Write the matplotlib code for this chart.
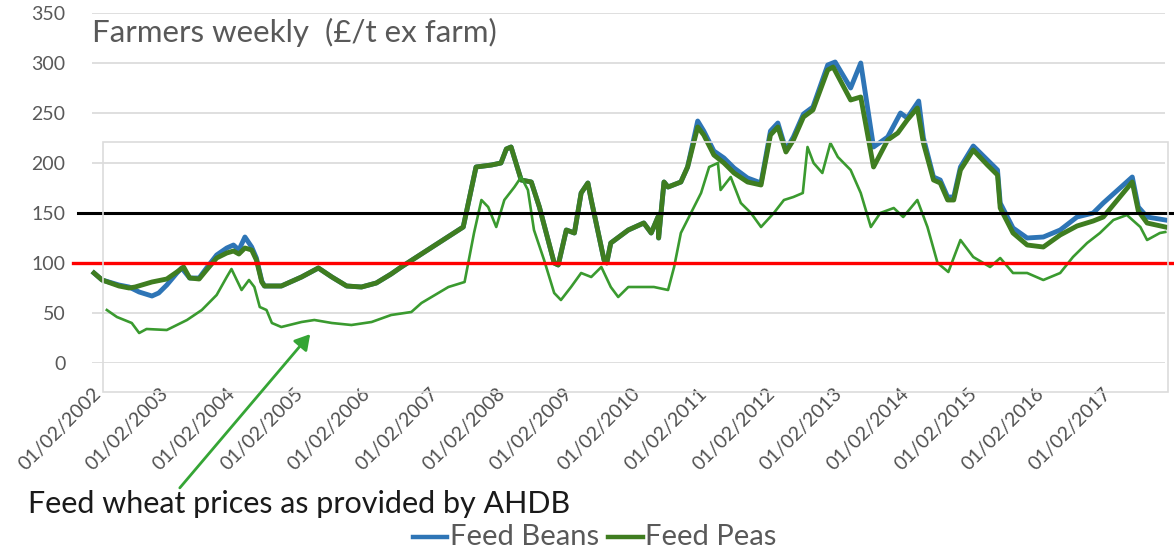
import matplotlib
matplotlib.use("Agg")
import matplotlib.pyplot as plt
from matplotlib.lines import Line2D
from matplotlib.patches import Rectangle, FancyArrowPatch
import matplotlib.transforms as mtransforms

plt.rcParams['font.family'] = ['Lato', 'DejaVu Sans']

# ---------------- data (decimal year, £/t) ----------------
peas_t = [2002.03, 2002.15, 2002.40, 2002.55, 2002.64, 2002.89, 2003.11, 2003.26, 2003.36, 2003.45,
          2003.59, 2003.70, 2003.85, 2004.00, 2004.10, 2004.18, 2004.27, 2004.37, 2004.44, 2004.52,
          2004.56, 2004.81, 2005.11, 2005.36, 2005.56, 2005.78, 2006.00, 2006.22, 2006.44, 2006.59,
          2007.51, 2007.70, 2007.93, 2008.07, 2008.15, 2008.22, 2008.37, 2008.52, 2008.64, 2008.86,
          2008.92, 2009.04, 2009.16, 2009.26, 2009.36, 2009.41, 2009.60, 2009.64, 2009.70, 2009.96,
          2010.19, 2010.30, 2010.40, 2010.41, 2010.49, 2010.55, 2010.74, 2010.84, 2010.99, 2011.08,
          2011.23, 2011.38, 2011.53, 2011.73, 2011.93, 2012.07, 2012.18, 2012.30, 2012.41, 2012.56,
          2012.70, 2012.92, 2013.00, 2013.26, 2013.41, 2013.60, 2013.81, 2013.96, 2014.10, 2014.25,
          2014.34, 2014.49, 2014.59, 2014.70, 2014.79, 2014.89, 2015.08, 2015.29, 2015.44, 2015.48,
          2015.67, 2015.88, 2016.12, 2016.37, 2016.62, 2016.86, 2017.01, 2017.44, 2017.53, 2017.66,
          2017.93]
peas_v = [90, 83, 77, 75, 76, 81, 84, 91, 96, 85,
          84, 93, 105, 110, 112, 109, 115, 113, 103, 81,
          77, 77, 86, 95, 86, 77, 76, 80, 89, 96,
          136, 196, 198, 200, 214, 216, 183, 181, 156, 100,
          98, 133, 130, 170, 180, 163, 103, 100, 120, 133,
          140, 130, 146, 125, 181, 176, 181, 196, 236, 228,
          208, 200, 190, 181, 178, 228, 236, 211, 223, 246,
          253, 293, 296, 263, 266, 196, 223, 230, 243, 255,
          220, 183, 180, 163, 163, 193, 213, 198, 188, 155,
          130, 118, 116, 128, 137, 142, 146, 181, 152, 140,
          136]

beans_t = [2002.03, 2002.15, 2002.40, 2002.55, 2002.70, 2002.89, 2002.99, 2003.11, 2003.26, 2003.33,
           2003.45, 2003.59, 2003.70, 2003.85, 2004.00, 2004.10, 2004.18, 2004.27, 2004.37, 2004.44,
           2004.52, 2004.56, 2004.81, 2005.11, 2005.36, 2005.56, 2005.78, 2006.00, 2006.22, 2006.44,
           2006.59, 2007.51, 2007.70, 2007.93, 2008.07, 2008.15, 2008.22, 2008.37, 2008.52, 2008.64,
           2008.86, 2008.92, 2009.04, 2009.16, 2009.26, 2009.36, 2009.41, 2009.60, 2009.64, 2009.70,
           2009.96, 2010.19, 2010.30, 2010.40, 2010.41, 2010.49, 2010.55, 2010.74, 2010.84, 2010.99,
           2011.08, 2011.23, 2011.38, 2011.53, 2011.73, 2011.93, 2012.07, 2012.18, 2012.30, 2012.41,
           2012.56, 2012.70, 2012.92, 2013.03, 2013.26, 2013.41, 2013.60, 2013.81, 2014.00, 2014.10,
           2014.27, 2014.34, 2014.49, 2014.59, 2014.70, 2014.79, 2014.89, 2015.08, 2015.29, 2015.44,
           2015.48, 2015.67, 2015.88, 2016.12, 2016.37, 2016.62, 2016.86, 2017.01, 2017.44, 2017.53,
           2017.66, 2017.93]
beans_v = [90, 83, 78, 76, 71, 67, 70, 78, 90, 95,
           85, 85, 95, 108, 115, 118, 113, 126, 116, 105,
           82, 77, 77, 86, 95, 86, 77, 76, 80, 89,
           96, 136, 196, 198, 200, 214, 216, 183, 181, 156,
           100, 98, 133, 130, 170, 180, 163, 103, 100, 120,
           133, 140, 130, 146, 125, 181, 176, 181, 196, 242,
           232, 212, 205, 195, 185, 180, 232, 240, 213, 226,
           249, 256, 298, 301, 275, 300, 216, 226, 250, 245,
           262, 225, 186, 183, 166, 166, 196, 217, 203, 193,
           160, 135, 125, 126, 133, 146, 150, 160, 186, 156,
           146, 143]

wheat_t = [2002.22, 2002.37, 2002.59, 2002.70, 2002.81, 2003.11, 2003.41, 2003.63, 2003.85, 2004.00,
           2004.07, 2004.22, 2004.33, 2004.41, 2004.49, 2004.59, 2004.67, 2004.81, 2005.11, 2005.30,
           2005.56, 2005.85, 2006.15, 2006.44, 2006.74, 2006.89, 2007.29, 2007.53, 2007.67, 2007.78,
           2007.88, 2008.00, 2008.12, 2008.27, 2008.37, 2008.47, 2008.56, 2008.71, 2008.86, 2008.96,
           2009.11, 2009.26, 2009.41, 2009.56, 2009.70, 2009.81, 2009.96, 2010.15, 2010.34, 2010.55,
           2010.64, 2010.74, 2010.89, 2011.04, 2011.16, 2011.29, 2011.33, 2011.48, 2011.63, 2011.78,
           2011.93, 2012.12, 2012.27, 2012.41, 2012.55, 2012.62, 2012.71, 2012.84, 2012.96, 2013.07,
           2013.26, 2013.41, 2013.56, 2013.70, 2013.90, 2014.04, 2014.25, 2014.40, 2014.55, 2014.71,
           2014.89, 2015.08, 2015.33, 2015.48, 2015.67, 2015.88, 2016.12, 2016.37, 2016.56, 2016.77,
           2016.96, 2017.16, 2017.36, 2017.56, 2017.66, 2017.85, 2017.93]
wheat_v = [53, 46, 40, 30, 34, 33, 43, 53, 68, 86,
           94, 73, 83, 76, 56, 53, 40, 36, 41, 43,
           40, 38, 41, 48, 51, 60, 76, 81, 130, 163,
           156, 136, 163, 176, 186, 173, 133, 103, 70, 63,
           76, 90, 86, 96, 76, 66, 76, 76, 76, 73,
           96, 130, 150, 170, 196, 200, 173, 186, 160, 150,
           136, 150, 163, 166, 170, 216, 200, 190, 220, 206,
           193, 170, 136, 150, 155, 146, 163, 136, 100, 91,
           123, 106, 96, 105, 90, 90, 83, 90, 106, 120,
           130, 143, 148, 136, 123, 130, 131]

tick_years = list(range(2002, 2018))
tick_labels = ["01/02/%d" % y for y in tick_years]
y_ticks = [0, 50, 100, 150, 200, 250, 300, 350]
ref_black = 150
ref_red = 100

title_text = "Farmers weekly  (£/t ex farm)"
note_text = "Feed wheat prices as provided by AHDB"
series_names = ["Feed Beans", "Feed Peas"]

# ---------------- layout ----------------
W, H = 1174, 552
fig = plt.figure(figsize=(W / 100, H / 100), dpi=100)
fig.patch.set_facecolor("white")

def fx(px):
    return px / W

def fy(py):
    return 1 - py / H

# x range in decimal years: tick 2002 at px 90, 67.5 px/year
px_per_year = 67.5
x0_px, x1_px = 92, 1165
xmin = 2002 + (x0_px - 90) / px_per_year
xmax = 2002 + (x1_px - 90) / px_per_year

ax = fig.add_axes([fx(x0_px), fy(363), fx(x1_px - x0_px), (363 - 13) / H])
ax.set_xlim(xmin, xmax)
ax.set_ylim(0, 350)
for s in ax.spines.values():
    s.set_visible(False)
ax.set_yticks(y_ticks)
ax.set_yticklabels([str(v) for v in y_ticks])
ax.grid(axis="y", color="#d9d9d9", lw=1.2)
ax.set_axisbelow(True)
ax.tick_params(axis="y", length=0, pad=19, labelsize=14, labelcolor="#595959")
ax.set_xticks(tick_years)
ax.set_xticklabels(tick_labels, rotation=45, ha="right", va="top", rotation_mode="anchor")
ax.tick_params(axis="x", length=0, pad=16, labelsize=14, labelcolor="#505050")

# inset frame of pasted wheat chart
fig.add_artist(Rectangle((fx(103), fy(392)), fx(1168 - 103), (392 - 142) / H,
                         transform=fig.transFigure, fill=False, edgecolor="#dcdcdc", lw=1.2))

# series
ax.plot(beans_t, beans_v, color="#2e75b6", lw=3.5, solid_joinstyle="round", clip_on=False, zorder=3)
ax.plot(peas_t, peas_v, color="#3f7d20", lw=3.5, solid_joinstyle="round", clip_on=False, zorder=4)
ax.plot(wheat_t, wheat_v, color="#3a9a2f", lw=1.9, solid_joinstyle="round", clip_on=False, zorder=5)

# reference lines spanning the figure width
trans = mtransforms.blended_transform_factory(fig.transFigure, ax.transData)
ax.plot([fx(78), 1.0], [ref_black, ref_black], transform=trans, color="black", lw=2.2,
        clip_on=False, zorder=6)
ax.plot([fx(73), 1.0], [ref_red, ref_red], transform=trans, color="#ff0000", lw=2.4,
        clip_on=False, zorder=6)

# title
fig.text(fx(92), fy(42), title_text, fontsize=22.5, color="#595959", va="baseline", ha="left")

# annotation and arrow
fig.text(fx(28), fy(513), note_text, fontsize=22, color="#1a1a1a", va="baseline", ha="left")
arrow = FancyArrowPatch((fx(178), fy(490)), (fx(312), fy(332)), transform=fig.transFigure,
                        arrowstyle="-|>,head_length=6,head_width=3.5", color="#35a535",
                        lw=2.0, mutation_scale=1.5)
fig.add_artist(arrow)

# legend
fig.add_artist(Line2D([fx(413), fx(447)], [fy(537), fy(537)], transform=fig.transFigure,
                      color="#2e75b6", lw=3.2))
fig.text(fx(450), fy(537), series_names[0], fontsize=21, color="#595959", va="center", ha="left")
fig.add_artist(Line2D([fx(608), fx(643)], [fy(537), fy(537)], transform=fig.transFigure,
                      color="#3f7d20", lw=3.2))
fig.text(fx(645), fy(537), series_names[1], fontsize=21, color="#595959", va="center", ha="left")

fig.savefig("out.png", dpi=100, facecolor="white")
